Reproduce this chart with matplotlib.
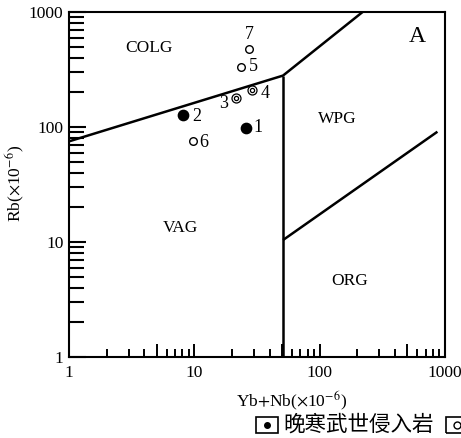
import matplotlib
matplotlib.use('Agg')
import matplotlib.pyplot as plt
import numpy as np
from matplotlib.ticker import FixedLocator, NullFormatter, FixedFormatter
from matplotlib.patches import Rectangle
from matplotlib.lines import Line2D

plt.rcParams['font.family'] = ['Liberation Serif', 'Noto Sans CJK SC']
plt.rcParams['mathtext.fontset'] = 'stix'

# sample points (Yb+Nb, Rb)
x_filled = [25.7, 8.1]
y_filled = [98.6, 127]
lab_filled = ['1', '2']
x_double = [21.5, 28.7]
y_double = [180, 208]
lab_double = ['3', '4']
x_open = [23.5, 9.7, 27.5]
y_open = [334, 75, 474]
lab_open = ['5', '6', '7']

# discrimination boundaries
colg_x = [1, 51, 220]
colg_y = [75, 280, 1000]
vag_x = [51, 51]
vag_y = [1, 280]
org_x = [51, 870]
org_y = [10.4, 91]

regions = ['COLG', 'WPG', 'VAG', 'ORG']
reg_x = [4.35, 138, 7.8, 172]
reg_y = [486, 117, 13.2, 4.6]

fig = plt.figure(figsize=(4.61, 4.38), dpi=100)
ax = fig.add_axes([69/461, 81/438, 376/461, 345/438])
ax.set_xscale('log')
ax.set_yscale('log')
ax.set_xlim(1, 1000)
ax.set_ylim(1, 1000)

lw = 1.8
ax.plot(colg_x, colg_y, color='black', lw=lw, solid_capstyle='butt')
ax.plot(vag_x, vag_y, color='black', lw=lw, solid_capstyle='butt')
ax.plot(org_x, org_y, color='black', lw=lw, solid_capstyle='butt')

ax.scatter(x_filled, y_filled, s=55, color='black', zorder=3)
ax.scatter(x_open, y_open, s=30, facecolor='white', edgecolor='black', lw=1.0, zorder=3)
ax.scatter(x_double, y_double, s=42, facecolor='white', edgecolor='black', lw=0.9, zorder=3)
ax.scatter(x_double, y_double, s=9, facecolor='white', edgecolor='black', lw=0.9, zorder=4)

px = 1/1.389
offs = {'1': (12, 0), '2': (14, -1), '3': (-12, -6), '4': (13, -3),
        '5': (13, 0), '6': (11, -1), '7': (0, 15)}
for xs, ys, ls in [(x_filled, y_filled, lab_filled), (x_double, y_double, lab_double),
                   (x_open, y_open, lab_open)]:
    for xv, yv, l in zip(xs, ys, ls):
        dx, dy = offs[l]
        ax.annotate(l, (xv, yv), xytext=(dx*px, dy*px), textcoords='offset points',
                    ha='center', va='center', fontsize=13)

for r, xv, yv in zip(regions, reg_x, reg_y):
    ax.text(xv, yv, r, ha='center', va='center', fontsize=12.5)
ax.text(0.925, 0.93, 'A', transform=ax.transAxes, ha='center', va='center', fontsize=17)

for s in ax.spines.values():
    s.set_linewidth(1.5)

# ticks
xmaj = [1, 5, 10, 50, 100, 500, 1000]
xlab = ['1', '', '10', '', '100', '', '1000']
xmin = [m*d for d in [1, 10, 100] for m in [2, 3, 4, 6, 7, 8, 9]]
ax.xaxis.set_major_locator(FixedLocator(xmaj))
ax.xaxis.set_major_formatter(FixedFormatter(xlab))
ax.xaxis.set_minor_locator(FixedLocator(xmin))
ax.xaxis.set_minor_formatter(NullFormatter())
ax.tick_params(axis='x', which='major', direction='in', length=9.5, width=1.4, pad=6, labelsize=12.5)
ax.tick_params(axis='x', which='minor', direction='in', length=6, width=1.4)

ymaj = [1, 10, 100, 1000]
ymin = [m*d for d in [1, 10, 100] for m in [2, 3, 4, 5, 6, 7, 8, 9]]
ax.yaxis.set_major_locator(FixedLocator(ymaj))
ax.yaxis.set_major_formatter(FixedFormatter(['1', '10', '100', '1000']))
ax.yaxis.set_minor_locator(FixedLocator(ymin))
ax.yaxis.set_minor_formatter(NullFormatter())
ax.tick_params(axis='y', which='major', direction='in', length=12, width=1.5, pad=4, labelsize=12.5)
ax.tick_params(axis='y', which='minor', direction='in', length=11, width=1.5)

ax.set_xlabel(r'Yb$+$Nb($\times$10$^{-6}$)', fontsize=12.5)
ax.xaxis.set_label_coords(0.593, -0.095)
ax.set_ylabel(r'Rb($\times$10$^{-6}$)', fontsize=12.5)
ax.yaxis.set_label_coords(-0.112, 0.504)

# legend row at the bottom (cut at right edge as in the source)
for bx, inner in [(256, 'dot'), (446, 'circle')]:
    rect = Rectangle((bx/461, (438-433)/438), 22/461, 16/438, transform=fig.transFigure,
                     fill=False, edgecolor='black', lw=1.2)
    fig.add_artist(rect)
    if inner == 'dot':
        fig.add_artist(Line2D([(bx+11)/461], [(438-425)/438], marker='o', markersize=4,
                              color='black', transform=fig.transFigure))
    else:
        fig.add_artist(Line2D([(bx+11)/461], [(438-425)/438], marker='o', markersize=5,
                              mfc='white', mec='black', transform=fig.transFigure))
fig.text(283/461, (438-425)/438, '晚寒武世侵入岩', ha='left', va='center', fontsize=15.5,
         family=['Noto Sans CJK SC'])

fig.savefig('out.png', dpi=100)
